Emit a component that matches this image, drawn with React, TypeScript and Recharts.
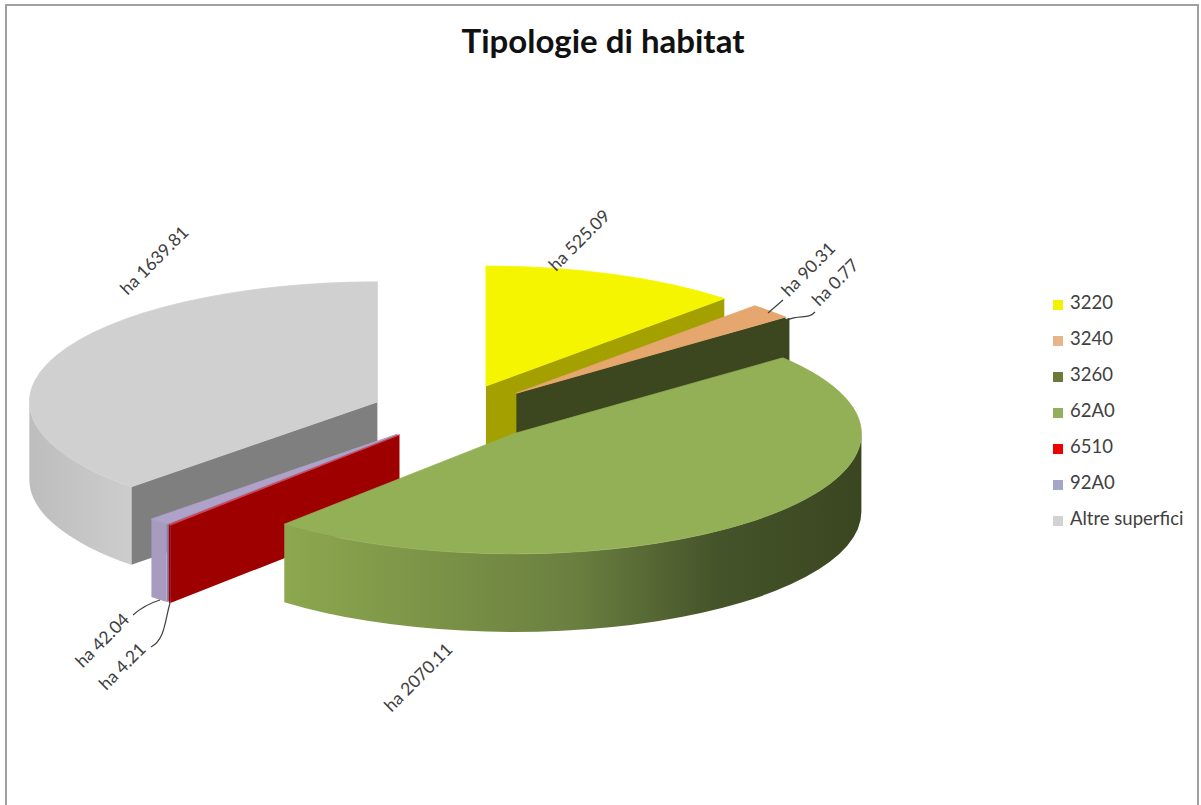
import React from 'react';
import { PieChart, Pie, Legend } from 'recharts';

const habitatNames = ['3220', '3240', '3260', '62A0', '6510', '92A0', 'Altre superfici'];
const habitatValues = [525.09, 90.31, 0.77, 2070.11, 4.21, 42.04, 1639.81];
const legendColors = ['#F2F200', '#E8B48A', '#6B7A38', '#93AE5E', '#EE0000', '#A6A6C8', '#D2D2D2'];

const chartData = habitatNames.map((name, i) => ({
  name,
  value: habitatValues[i],
  fill: legendColors[i]
}));

// back-to-front, the pie is exploded so each slice has to overlap the right neighbours
const paintOrder = ['3220', '3240', '3260', 'Altre superfici', '92A0', '6510', '62A0'];

const TILT = 0.345;
const DEPTH = 78;
const EXPLODE = 84;

const topColors: Record<string, string> = {
  '3220': '#F5F500',
  '3240': '#E6A76F',
  '3260': '#3C4720',
  '62A0': '#93B056',
  '6510': '#D84050',
  '92A0': '#AFA2C8',
  'Altre superfici': '#D0D0D0'
};
const wallColors: Record<string, string> = {
  '3220': '#A3A000',
  '3240': '#3C4720',
  '3260': '#3C4720',
  '62A0': '#3C4720',
  '6510': '#9E0000',
  '92A0': '#8A7FA8',
  'Altre superfici': '#7F7F7F'
};
const rimFills: Record<string, string> = {
  '3220': '#A3A000',
  '3240': '#B07F50',
  '3260': '#3C4720',
  '62A0': 'url(#greenRim)',
  '6510': '#9E0000',
  '92A0': '#A79BC0',
  'Altre superfici': 'url(#grayRim)'
};

// text centre and optional leader line for every data label
const labelSpots: Record<string, { x: number; y: number; line?: string }> = {
  '3220': { x: 579, y: 240 },
  '3240': { x: 808, y: 269, line: 'M768 313 L783 300' },
  '3260': { x: 835, y: 282, line: 'M787 320 C800 314 808 320 815 312' },
  '62A0': { x: 418, y: 677 },
  '6510': { x: 122, y: 666, line: 'M170 603 C165 620 165 640 151 647' },
  '92A0': { x: 102, y: 640, line: 'M160 600 C150 603 142 607 133 615' },
  'Altre superfici': { x: 154, y: 260 }
};

const makeSliceShape = (layer: string) => (props: any) => {
  if (props.name !== layer) return <g />;
  const { cx, cy, outerRadius: R, startAngle, endAngle } = props;
  const from = 90 - startAngle;
  const to = 90 - endAngle;
  const mid = ((from + to) / 2) * (Math.PI / 180);
  const ox = cx + EXPLODE * Math.sin(mid);
  const oy = cy - EXPLODE * Math.cos(mid) * TILT;
  const pt = (deg: number, drop = 0) => {
    const a = deg * (Math.PI / 180);
    return `${ox + R * Math.sin(a)} ${oy - R * Math.cos(a) * TILT + drop}`;
  };
  const arc = (a: number, b: number, sweep: number, drop = 0) =>
    `A${R} ${R * TILT} 0 ${Math.abs(b - a) > 180 ? 1 : 0} ${sweep} ${pt(b, drop)}`;
  const wall = (deg: number) =>
    `M${ox} ${oy} L${pt(deg)} L${pt(deg, DEPTH)} L${ox} ${oy + DEPTH} Z`;

  const rimFrom = Math.max(from, 90);
  const rimTo = Math.min(to, 270);
  return (
    <g>
      {to > 0 && to < 180 && <path d={wall(to)} fill={wallColors[layer]} />}
      {from > 180 && from < 360 && <path d={wall(from)} fill={wallColors[layer]} />}
      {rimFrom < rimTo && (
        <path
          d={`M${pt(rimFrom)} ${arc(rimFrom, rimTo, 1)} L${pt(rimTo, DEPTH)} ${arc(rimTo, rimFrom, 0, DEPTH)} Z`}
          fill={rimFills[layer]}
        />
      )}
      <path
        d={`M${ox} ${oy} L${pt(from)} ${arc(from, to, 1)} Z`}
        fill={topColors[layer]}
        stroke={topColors[layer]}
        strokeWidth={0.8}
      />
    </g>
  );
};

const renderDataLabel = (props: any) => {
  const spot = labelSpots[props.name];
  return (
    <g key={props.name}>
      {spot.line && <path d={spot.line} fill="none" stroke="#404040" strokeWidth={1.2} />}
      <text
        x={spot.x}
        y={spot.y}
        transform={`rotate(-45 ${spot.x} ${spot.y})`}
        textAnchor="middle"
        dominantBaseline="central"
        fontFamily="Lato"
        fontSize={17.5}
        fill="#404040"
      >
        {`ha ${props.value}`}
      </text>
    </g>
  );
};

const App = () => (
  <div style={{ position: 'absolute', left: 0, top: 0, width: 1201, height: 805, overflow: 'hidden', background: '#fff' }}>
    <PieChart width={1201} height={805} margin={{ top: 0, right: 0, bottom: 0, left: 0 }}>
      <defs>
        <linearGradient id="greenRim" gradientUnits="userSpaceOnUse" x1="280" y1="0" x2="861" y2="0">
          <stop offset="0" stopColor="#8DA84F" />
          <stop offset="0.5" stopColor="#6B8040" />
          <stop offset="0.75" stopColor="#45542A" />
          <stop offset="1" stopColor="#3A4620" />
        </linearGradient>
        <linearGradient id="grayRim" gradientUnits="userSpaceOnUse" x1="30" y1="0" x2="133" y2="0">
          <stop offset="0" stopColor="#BDBDBD" />
          <stop offset="1" stopColor="#CDCDCD" />
        </linearGradient>
      </defs>
      <rect x={6} y={5} width={1192} height={830} fill="none" stroke="#A0A0A0" strokeWidth={2} />
      <text x={603} y={40} textAnchor="middle" dominantBaseline="central" fontFamily="Lato" fontWeight={700} fontSize={33} fill="#111">
        Tipologie di habitat
      </text>
      {paintOrder.map((layer, i) => (
        <Pie
          key={layer}
          data={chartData}
          dataKey="value"
          nameKey="name"
          cx={455}
          cy={413}
          outerRadius={348}
          startAngle={90}
          endAngle={-270}
          stroke="none"
          legendType={i === 0 ? 'square' : 'none'}
          shape={makeSliceShape(layer)}
          label={i === paintOrder.length - 1 ? renderDataLabel : false}
          labelLine={false}
          isAnimationActive={false}
        />
      ))}
      <Legend
        layout="vertical"
        align="right"
        verticalAlign="top"
        iconType="square"
        iconSize={10}
        wrapperStyle={{ left: 1053, right: 'auto', top: 285, width: 145, lineHeight: '34px' }}
        formatter={(value: string) => (
          <span style={{ color: '#404040', fontFamily: 'Lato', fontSize: 18.5, marginLeft: 3 }}>{value}</span>
        )}
      />
    </PieChart>
  </div>
);

export default App;
